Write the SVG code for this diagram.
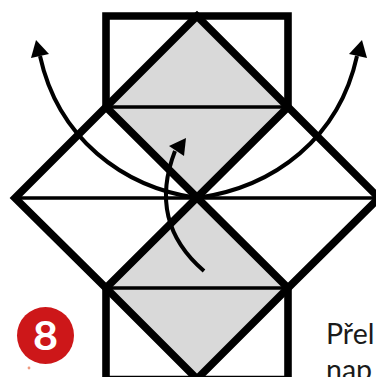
<svg xmlns="http://www.w3.org/2000/svg" width="376" height="377" viewBox="0 0 376 377">
<defs>
<style>
.thick{fill:none;stroke:#000;stroke-width:7.6;stroke-linejoin:miter}
.thin{fill:none;stroke:#000;stroke-width:3.6}
.arc{fill:none;stroke:#000;stroke-width:4}
.head{fill:#000}
.txt{font-family:Lato,"Open Sans",sans-serif;font-size:28.5px;fill:#1a1a1a}
</style>
</defs>
<rect width="376" height="377" fill="#fff"/>
<g id="gray-top"><path d="M197 16L288 107L197 198L106 107Z" fill="#d9d9d9"/></g>
<g id="gray-bottom"><path d="M197 198L288 288L197 379L106 288Z" fill="#d9d9d9"/></g>
<g id="folds">
<path class="thin" d="M106 107H288M15 198H380M106 288H288"/>
<path class="thick" d="M106 107V16H288V107"/>
<path class="thick" d="M106 288V379.6H288V288"/>
<path class="thick" d="M197 16L106 107L15 198L106 288L197 379L288 288L379 198L288 107L197 16Z"/>
<path class="thick" d="M106 107L288 288M288 107L106 288"/>
</g>
<g id="connectors">
<path class="arc" d="M197 198C122 187 58 138 40 56"/>
<path class="head" d="M36 40L49 54L31 58Z"/>
<path class="arc" d="M197 198C275 187 339 138 357 56"/>
<path class="head" d="M362 40L367 58L349 54Z"/>
<path class="arc" d="M204 271C168 240 156 200 175 151"/>
<path class="head" d="M186 138L184 156L169 146Z"/>
</g>
<g id="badge">
<circle cx="45.5" cy="335.5" r="28.5" fill="#cd1719"/>
<text transform="translate(45.5 350) scale(1.08 1)" text-anchor="middle" style="font-family:Lato,sans-serif;font-weight:700;font-size:40px;fill:#fff">8</text>
<circle cx="29" cy="368" r="1.4" fill="#ee9a80"/>
</g>
<g id="caption">
<text class="txt" x="326" y="344">Přel</text>
<text class="txt" x="326" y="380">nap</text>
</g>
</svg>
